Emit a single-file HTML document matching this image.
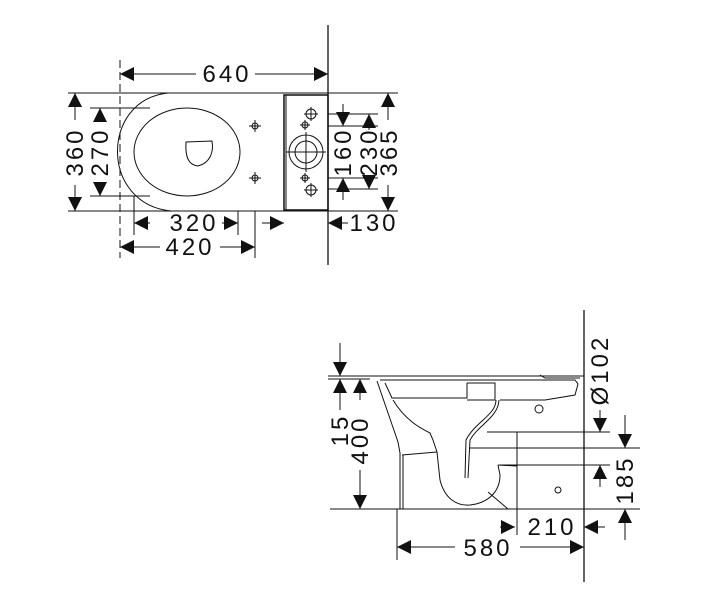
<!DOCTYPE html>
<html><head><meta charset="utf-8"><style>
html,body{margin:0;padding:0;background:#fff;width:715px;height:600px;overflow:hidden}
svg text{font-family:"Liberation Sans",sans-serif;font-size:24px;letter-spacing:3px;fill:#111}
</style></head><body>
<svg width="715" height="600" viewBox="0 0 715 600" xmlns="http://www.w3.org/2000/svg">
<defs>
<marker id="a" viewBox="0 0 10 10" refX="10" refY="5" markerWidth="14" markerHeight="14" markerUnits="userSpaceOnUse" orient="auto-start-reverse"><path d="M0,0L10,5L0,10z" fill="#111"/></marker>
</defs>
<g stroke="#111" stroke-width="1" fill="none">
<!-- TOP VIEW -->
<line x1="328" y1="25" x2="328" y2="265" stroke-width="1.3"/>
<line x1="120" y1="60" x2="120" y2="258" stroke-dasharray="8,4"/>
<line x1="68" y1="93" x2="398" y2="93"/>
<line x1="68" y1="211" x2="398" y2="211"/>
<line x1="90" y1="108" x2="150" y2="108"/>
<line x1="90" y1="196" x2="150" y2="196"/>
<path d="M168,93 C100,100 100,205 172,211"/>
<ellipse cx="187" cy="152" rx="53" ry="44"/>
<path d="M186,142 L212,141 C214,152 210,163 198,166 C189,165 185,158 186,142z"/>
<rect x="284" y="95" width="44" height="115" stroke-width="1.5"/>
<line x1="286" y1="95" x2="286" y2="210"/>
<circle cx="306" cy="152" r="17"/><circle cx="306" cy="152" r="11"/>
<line x1="286" y1="152" x2="326" y2="152"/><line x1="306" y1="132" x2="306" y2="172"/>
<circle cx="311" cy="114" r="5"/><line x1="304" y1="114" x2="318" y2="114"/><line x1="311" y1="107" x2="311" y2="121"/>
<circle cx="311" cy="190" r="5"/><line x1="304" y1="190" x2="318" y2="190"/><line x1="311" y1="183" x2="311" y2="197"/>
<circle cx="305" cy="125" r="3"/><line x1="300" y1="125" x2="310" y2="125"/><line x1="305" y1="120" x2="305" y2="130"/>
<circle cx="305" cy="178" r="3"/><line x1="300" y1="178" x2="310" y2="178"/><line x1="305" y1="173" x2="305" y2="183"/>
<circle cx="255" cy="126" r="3"/><line x1="249" y1="126" x2="261" y2="126"/><line x1="255" y1="120" x2="255" y2="132"/>
<circle cx="255" cy="178" r="3"/><line x1="249" y1="178" x2="261" y2="178"/><line x1="255" y1="172" x2="255" y2="184"/>
<!-- 640 -->
<line x1="120" y1="74" x2="196" y2="74" marker-start="url(#a)"/>
<line x1="255" y1="74" x2="328" y2="74" marker-end="url(#a)"/>
<!-- 360 -->
<line x1="75" y1="93" x2="75" y2="120" marker-start="url(#a)"/>
<line x1="75" y1="185" x2="75" y2="211" marker-end="url(#a)"/>
<!-- 270 -->
<line x1="100" y1="108" x2="100" y2="120" marker-start="url(#a)"/>
<line x1="100" y1="184" x2="100" y2="196" marker-end="url(#a)"/>
<!-- 320 / 420 ext -->
<line x1="134" y1="196" x2="134" y2="235"/>
<line x1="238" y1="211" x2="238" y2="235"/>
<line x1="255" y1="211" x2="255" y2="258"/>
<line x1="134" y1="223" x2="150" y2="223" marker-start="url(#a)"/>
<line x1="222" y1="223" x2="238" y2="223" marker-end="url(#a)"/>
<line x1="120" y1="247" x2="160" y2="247" marker-start="url(#a)"/>
<line x1="220" y1="247" x2="255" y2="247" marker-end="url(#a)"/>
<!-- 130 -->
<line x1="262" y1="223" x2="284" y2="223" marker-end="url(#a)"/>
<line x1="348" y1="223" x2="328" y2="223" marker-end="url(#a)"/>
<!-- 160 230 365 -->
<line x1="328" y1="126" x2="378" y2="126"/><line x1="328" y1="178" x2="378" y2="178"/>
<line x1="328" y1="114" x2="378" y2="114"/><line x1="328" y1="189" x2="378" y2="189"/>
<line x1="343" y1="104" x2="343" y2="126" marker-end="url(#a)"/>
<line x1="343" y1="200" x2="343" y2="178" marker-end="url(#a)"/>
<line x1="369" y1="130" x2="369" y2="114" marker-end="url(#a)"/>
<line x1="369" y1="175" x2="369" y2="189" marker-end="url(#a)"/>
<line x1="388" y1="120" x2="388" y2="93" marker-end="url(#a)"/>
<line x1="388" y1="185" x2="388" y2="211" marker-end="url(#a)"/>

<!-- SIDE VIEW -->
<line x1="584" y1="310" x2="584" y2="582" stroke-width="1.3"/>
<line x1="330" y1="509" x2="640" y2="509"/>
<line x1="328" y1="376" x2="584" y2="376"/>
<line x1="328" y1="379" x2="370" y2="379"/>
<path d="M377,381 L398,442 L400,453 L400,509"/>
<line x1="403" y1="455" x2="403" y2="509"/>
<path d="M380,380 L575,380 L578,384 L575,395 L545,400 L500,400"/>
<path d="M385,383 L392,398 L467,398 L467,383"/>
<path d="M467,383 L495,383 L495,400 L467,400"/>
<path d="M540,375 L545,378 L580,378"/>
<path d="M393,400 C405,420 420,428 430,433 L433,440 L437,452 L440,480 C445,500 458,506 470,505 C488,503 500,492 500,475 L498,465"/>
<path d="M499,400 C498,418 478,425 470,440 L468,478"/>
<path d="M496,400 C496,415 475,422 466,440 L465,478"/>
<line x1="402" y1="455" x2="437" y2="452"/>
<line x1="487" y1="432" x2="517" y2="432"/>
<line x1="517" y1="432" x2="517" y2="535"/>
<line x1="498" y1="465" x2="517" y2="466"/>
<line x1="488" y1="492" x2="508" y2="509"/>
<circle cx="539" cy="409" r="4"/><circle cx="558" cy="490" r="3"/>
<!-- 15 / 400 -->
<line x1="340" y1="343" x2="340" y2="376" marker-end="url(#a)"/>
<line x1="340" y1="410" x2="340" y2="379" marker-end="url(#a)"/>
<line x1="360" y1="400" x2="360" y2="379" marker-end="url(#a)"/>
<line x1="360" y1="470" x2="360" y2="509" marker-end="url(#a)"/>
<!-- 580 / 210 -->
<line x1="397" y1="509" x2="397" y2="560"/>
<line x1="397" y1="547" x2="455" y2="547" marker-start="url(#a)"/>
<line x1="520" y1="547" x2="584" y2="547" marker-end="url(#a)"/>
<line x1="500" y1="527" x2="515" y2="527" marker-end="url(#a)"/>
<line x1="605" y1="527" x2="584" y2="527" marker-end="url(#a)"/>
<!-- Ø102 / 185 -->
<line x1="490" y1="432" x2="610" y2="432"/>
<line x1="470" y1="448" x2="640" y2="448"/>
<line x1="500" y1="465" x2="610" y2="465"/>
<line x1="600" y1="410" x2="600" y2="432" marker-end="url(#a)"/>
<line x1="600" y1="487" x2="600" y2="465" marker-end="url(#a)"/>
<line x1="625" y1="415" x2="625" y2="448" marker-end="url(#a)"/>
<line x1="625" y1="540" x2="625" y2="509" marker-end="url(#a)"/>
</g>
<text x="227" y="82" text-anchor="middle">640</text>
<text x="194" y="231" text-anchor="middle">320</text>
<text x="190" y="255" text-anchor="middle">420</text>
<text x="374" y="231" text-anchor="middle">130</text>
<text transform="translate(83,152) rotate(-90)" text-anchor="middle">360</text>
<text transform="translate(108,152) rotate(-90)" text-anchor="middle">270</text>
<text transform="translate(351,152) rotate(-90)" text-anchor="middle">160</text>
<text transform="translate(377,152) rotate(-90)" text-anchor="middle">230</text>
<text transform="translate(397,152) rotate(-90)" text-anchor="middle">365</text>
<text transform="translate(348,430) rotate(-90)" text-anchor="middle">15</text>
<text transform="translate(368,440) rotate(-90)" text-anchor="middle">400</text>
<text transform="translate(608,370) rotate(-90)" text-anchor="middle">Ø102</text>
<text transform="translate(633,480) rotate(-90)" text-anchor="middle">185</text>
<text x="552" y="535" text-anchor="middle">210</text>
<text x="488" y="556" text-anchor="middle">580</text>
</svg>
</body></html>
